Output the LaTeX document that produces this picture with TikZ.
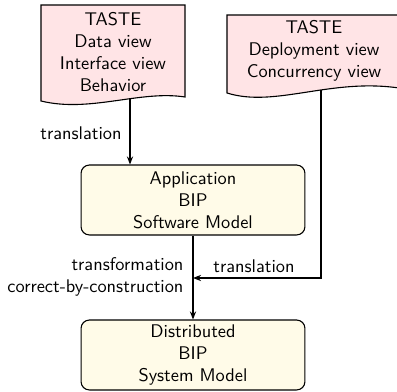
\documentclass[tikz,border=0pt]{standalone}
\usetikzlibrary{arrows.meta}
\definecolor{docpink}{RGB}{255,228,230}
\definecolor{boxyellow}{RGB}{255,251,232}
\begin{document}
\begin{tikzpicture}[x=0.545pt,y=-0.545pt,font=\sffamily,line width=0.6pt,
  model/.style={draw,fill=boxyellow,rounded corners=4.5pt,align=center,
    minimum width=122pt,minimum height=38.1pt,inner sep=0pt},
  doctext/.style={align=center,inner sep=0pt},
  arr/.style={-{Stealth[length=4.4pt,width=3.4pt]}},
  lbl/.style={inner sep=0pt}]
\useasboundingbox (0,0) rectangle (397,392);
% documents
\draw[fill=docpink] (41,101) -- (41,5) -- (185,5) -- (185,97)
  .. controls (140,90) and (90,113) .. (41,101) -- cycle;
\draw[fill=docpink] (227,93) -- (227,15) -- (399,15) -- (399,88)
  .. controls (330,78) and (275,108) .. (227,93) -- cycle;
\coordinate (lb) at (130,98.5);
\coordinate (rb) at (321,90.5);
\node[doctext] (leftdoc) at (113,52) {TASTE\\Data view\\Interface view\\Behavior};
\node[doctext] (rightdoc) at (314,51) {TASTE\\Deployment view\\Concurrency view};
% models
\node[model] (app) at (193,200) {Application\\BIP\\Software Model};
\node[model] (dist) at (193,355) {Distributed\\BIP\\System Model};
\coordinate (join) at (193,278);
% connectors
\draw[arr] (lb) -- (app.north -| lb);
\draw[arr] (app.south) -- (dist.north);
\draw[arr] (rb) |- (join);
% labels
\node[lbl] (tr1) at (81,133) {translation};
\node[lbl,anchor=east,align=right] (tc) at (184,277) {transformation\\correct-by-construction};
\node[lbl] (tr2) at (254,266) {translation};
\end{tikzpicture}
\end{document}
